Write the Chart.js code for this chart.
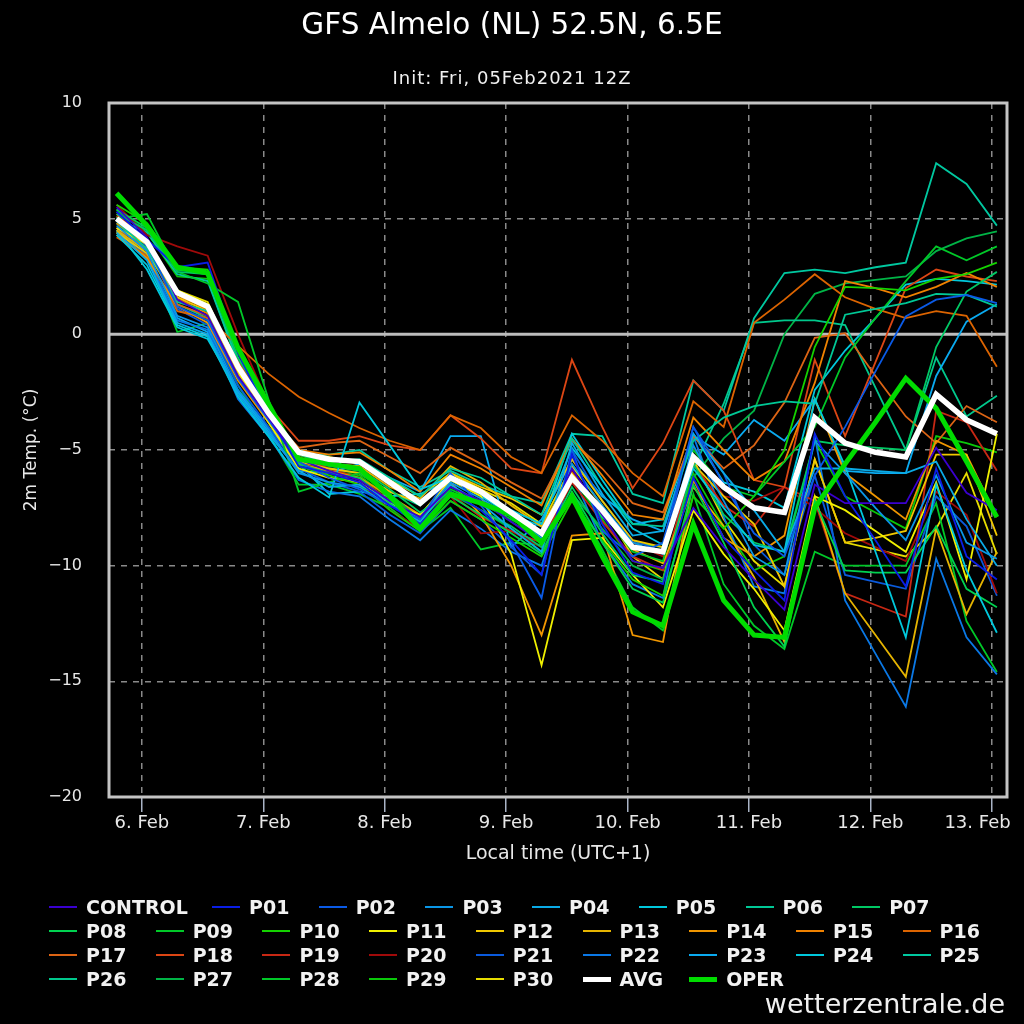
<!DOCTYPE html>
<html>
<head>
<meta charset="utf-8">
<title>GFS Almelo (NL) ensemble 2m temperature</title>
<script src="https://cdn.jsdelivr.net/npm/chart.js@4.4.1/dist/chart.umd.min.js"></script>
<style>
  html, body { margin: 0; padding: 0; background: #000; }
  body { width: 1024px; height: 1024px; position: relative; overflow: hidden;
         font-family: 'DejaVu Sans', sans-serif; color: #fff; }
  #chart { position: absolute; left: 0; top: 0; }
  .title { position: absolute; left: 0; width: 1024px; text-align: center; white-space: nowrap; }
  #main-title { top: 7px; font-size: 29.5px; color: #fff; }
  #sub-title { top: 67px; font-size: 18px; letter-spacing: 1px; color: #f0f0f0; }
  #legend .item { position: absolute; height: 24px; line-height: 24px; font-size: 19px;
                  font-weight: bold; color: #f2f2f2; white-space: nowrap; }
  #legend .swatch { position: absolute; left: 0; width: 28px; }
  #legend .label { position: absolute; left: 37px; top: 0; }
  #credit { position: absolute; right: 19px; top: 988px; font-size: 27px; color: #f0f0f0; }
</style>
</head>
<body>
<canvas id="chart" width="1024" height="1024"></canvas>
<div id="main-title" class="title">GFS Almelo (NL) 52.5N, 6.5E</div>
<div id="sub-title" class="title">Init: Fri, 05Feb2021 12Z</div>
<div id="legend"></div>
<div id="credit">wetterzentrale.de</div>
<script>
  // ------------------------------------------------------------
  // Data: hours after 6 Feb 00:00 local time, one value every 6 h
  // ------------------------------------------------------------
  const validHours = [-5, 1, 7, 13, 19, 25, 31, 37, 43, 49, 55, 61, 67, 73, 79,
    85, 91, 97, 103, 109, 115, 121, 127, 133, 139, 145, 151, 157, 163, 169];

  const dayTicks = [0, 24, 48, 72, 96, 120, 144, 168];
  const dayLabels = ['6. Feb', '7. Feb', '8. Feb', '9. Feb', '10. Feb', '11. Feb', '12. Feb', '13. Feb'];
  const tempTicks = [-20, -15, -10, -5, 0, 5, 10];

  const memberNames = ['CONTROL', 'P01', 'P02', 'P03', 'P04', 'P05', 'P06', 'P07', 'P08', 'P09', 'P10',
    'P11', 'P12', 'P13', 'P14', 'P15', 'P16', 'P17', 'P18', 'P19', 'P20',
    'P21', 'P22', 'P23', 'P24', 'P25', 'P26', 'P27', 'P28', 'P29', 'P30'];

  const memberColors = ['#3a00d0', '#0a1ee6', '#0a5ae6', '#0a96e6', '#0aaae6', '#00c8dc', '#00c896',
    '#00c864', '#00d250', '#00c828', '#14d200', '#f0f000', '#f0c800', '#e6b400', '#f09600',
    '#f08200', '#dc6400', '#dc6414', '#dc4614', '#c82814', '#a00a0a', '#0a5adc', '#0a78e6',
    '#0aaaf0', '#00c8dc', '#00c8a0', '#00c88c', '#00b446', '#00c828', '#0ac80a', '#e6dc00'];

  // 2m temperature (°C) per member
  const control = [5.5, 4.2, 1.5, 0.8, -1.8, -3.6, -5.4, -5.9, -6.3, -7.2, -7.9, -6.6, -7.2, -8.1, -9.0,
    -5.8, -7.8, -9.8, -10.1, -7.5, -9.2, -10.6, -11.9, -6.5, -7.3, -7.3, -7.3, -4.9, -6.85, -7.6];
  const p01 = [5.3, 4.1, 2.9, 3.1, -0.8, -3.5, -5.7, -6.0, -6.4, -7.4, -8.2, -6.8, -7.6, -8.9, -10.4,
    -5.2, -8.2, -10.3, -10.8, -6.2, -8.8, -10.2, -11.5, -4.3, -7.0, -8.9, -10.9, -5.8, -9.6, -10.6];
  const p02 = [5.0, 3.9, 1.2, 0.6, -1.9, -3.7, -5.5, -6.2, -6.7, -7.4, -8.0, -6.0, -7.4, -9.0, -11.4,
    -5.0, -8.5, -9.6, -9.0, -4.0, -6.5, -8.6, -9.6, -6.1, -4.0, -1.6, 0.77, 1.5, 1.7, 1.35];
  const p03 = [4.7, 3.6, 0.8, 0.3, -2.4, -4.1, -6.0, -6.4, -6.6, -7.4, -7.9, -6.4, -7.1, -7.9, -8.8,
    -5.6, -7.4, -9.0, -9.5, -4.8, -7.2, -9.6, -10.4, -4.6, -6.0, -7.5, -8.9, -6.1, -9.0, -9.7];
  const p04 = [4.4, 3.2, 0.5, 0.0, -2.6, -4.3, -5.9, -6.6, -6.5, -7.2, -8.1, -6.5, -7.3, -8.4, -9.4,
    -4.7, -6.9, -8.7, -8.5, -4.3, -6.0, -7.6, -9.4, -5.8, -5.8, -5.9, -6.0, -5.5, -8.0, -10.0];
  const p05 = [4.3, 3.0, 0.4, -0.1, -2.7, -4.4, -6.2, -7.05, -2.95, -4.8, -6.7, -6.2, -6.8, -7.6, -8.2,
    -4.9, -6.6, -8.4, -9.1, -5.8, -7.5, -9.1, -9.4, -2.8, -5.7, -9.4, -13.1, -6.5, -10.2, -12.9];
  const p06 = [4.9, 3.7, 1.4, 1.0, -1.5, -3.3, -5.0, -5.5, -5.4, -6.2, -7.0, -5.8, -6.2, -7.0, -7.8,
    -4.5, -6.6, -8.2, -8.3, -4.6, -3.6, -3.1, -2.9, -3.0, 0.85, 1.1, 1.35, 1.75, 1.7, 1.2];
  const p07 = [5.2, 4.5, 2.7, 2.6, -1.0, -3.2, -5.2, -5.6, -5.8, -6.7, -7.7, -6.8, -7.6, -8.3, -9.2,
    -6.6, -8.6, -10.4, -10.7, -5.6, -7.8, -9.0, -9.4, -4.6, -4.8, -4.9, -5.0, -0.55, 1.85, 2.7];
  const p08 = [5.4, 4.6, 2.8, 2.7, -0.8, -3.1, -5.6, -6.0, -6.2, -7.3, -8.3, -7.0, -7.8, -8.6, -9.5,
    -6.8, -9.0, -11.0, -11.6, -6.5, -9.0, -11.8, -13.5, -7.2, -10.2, -10.3, -10.3, -8.3, -11.0, -11.8];
  const p09 = [5.0, 5.2, 2.7, 2.2, 1.4, -2.8, -6.8, -6.4, -6.0, -6.9, -8.0, -6.7, -7.3, -8.0, -8.7,
    -6.2, -7.7, -9.4, -9.8, -5.0, -6.6, -7.0, -5.5, -4.0, -1.0, 0.7, 2.3, 3.8, 3.2, 3.8];
  const p10 = [5.6, 4.8, 2.9, 2.8, -0.7, -3.0, -5.7, -6.1, -6.5, -7.6, -8.5, -7.2, -8.0, -8.8, -9.6,
    -7.2, -8.9, -10.6, -11.3, -7.0, -8.4, -7.0, -5.0, -0.55, 2.05, 2.0, 1.9, 2.4, 2.6, 3.1];
  const p11 = [4.6, 3.9, 1.9, 1.3, -1.6, -3.8, -5.8, -6.2, -6.4, -7.3, -7.8, -6.3, -7.0, -9.5, -14.3,
    -8.9, -8.8, -10.4, -11.8, -7.6, -9.5, -11.0, -12.8, -7.0, -7.6, -8.5, -9.4, -6.4, -10.6, -4.3];
  const p12 = [4.4, 3.5, 1.6, 1.0, -1.7, -3.6, -5.5, -5.8, -6.0, -6.8, -7.3, -6.0, -6.6, -7.1, -7.8,
    -5.4, -7.2, -8.9, -9.2, -5.6, -7.0, -8.2, -10.9, -5.4, -9.0, -8.8, -8.5, -5.2, -5.2, -8.7];
  const p13 = [4.5, 3.6, 1.7, 1.1, -1.4, -3.3, -5.2, -5.6, -5.7, -6.6, -7.1, -5.7, -6.4, -7.4, -8.3,
    -6.0, -7.6, -9.3, -9.9, -6.6, -8.3, -10.5, -13.3, -7.0, -11.2, -13.0, -14.8, -8.4, -12.1, -9.4];
  const p14 = [4.3, 3.3, 1.2, 0.5, -2.0, -3.8, -5.6, -5.9, -6.2, -7.0, -7.8, -6.4, -7.8, -10.0, -13.0,
    -8.7, -8.6, -13.0, -13.3, -6.3, -8.8, -9.6, -8.7, -2.8, -6.0, -7.0, -8.0, -4.6, -5.2, -7.9];
  const p15 = [4.8, 3.9, 1.5, 0.9, -1.5, -3.4, -5.0, -5.2, -5.1, -5.9, -6.8, -5.2, -5.8, -6.6, -7.4,
    -4.5, -6.1, -7.8, -8.0, -3.6, -5.0, -6.3, -5.5, -2.1, 2.3, 2.0, 1.6, 2.05, 2.65, 2.05];
  const p16 = [4.2, 3.4, 1.0, 0.7, -0.5, -1.7, -2.7, -3.4, -4.05, -4.6, -5.0, -3.5, -4.05, -5.3, -6.0,
    -3.5, -4.6, -6.0, -7.0, -2.9, -4.0, 0.5, 1.5, 2.6, 1.6, 1.1, 0.7, 1.0, 0.8, -1.4];
  const p17 = [4.6, 3.7, 1.3, 0.8, -1.6, -3.5, -4.9, -4.7, -4.6, -5.3, -6.0, -4.9, -5.6, -6.4, -7.1,
    -4.6, -5.8, -7.3, -7.7, -4.4, -5.8, -4.8, -2.95, -0.15, 0.05, -1.8, -3.55, -4.7, -3.1, -3.8];
  const p18 = [5.2, 4.0, 1.6, 1.2, -1.2, -3.1, -4.6, -4.6, -4.4, -4.8, -5.0, -3.5, -4.5, -5.8, -6.0,
    -1.1, -4.0, -6.65, -4.7, -2.0, -3.3, -6.3, -6.6, -1.1, -4.4, -1.2, 2.0, 2.8, 2.5, 2.3];
  const p19 = [5.1, 4.1, 1.5, 1.1, -1.7, -3.6, -5.3, -5.8, -6.2, -7.2, -7.8, -6.9, -7.9, -8.5, -9.0,
    -6.4, -8.1, -9.6, -10.2, -5.6, -7.4, -8.3, -6.6, -7.2, -11.2, -11.7, -12.2, -3.3, -3.8, -5.9];
  const p20 = [5.6, 4.3, 3.8, 3.4, 0.0, -3.0, -5.5, -6.0, -6.4, -7.6, -8.4, -7.0, -8.6, -8.5, -9.2,
    -5.9, -7.8, -9.0, -9.6, -4.9, -7.0, -7.2, -6.6, -7.5, -8.6, -9.2, -9.8, -6.8, -7.8, -11.2];
  const p21 = [5.0, 3.8, 1.1, 0.4, -2.2, -4.0, -5.8, -6.4, -6.8, -7.8, -8.6, -7.2, -8.0, -9.2, -10.4,
    -5.0, -7.2, -8.9, -9.4, -4.0, -6.0, -9.1, -10.4, -6.1, -10.4, -10.7, -11.0, -7.0, -8.3, -11.3];
  const p22 = [4.6, 3.4, 0.6, 0.2, -2.8, -4.4, -6.3, -6.8, -7.0, -8.0, -8.9, -7.6, -8.4, -9.4, -10.0,
    -6.0, -9.0, -10.8, -11.4, -4.4, -7.9, -10.9, -11.2, -4.4, -11.5, -13.8, -16.1, -9.7, -13.1, -14.7];
  const p23 = [4.5, 3.3, 0.7, 0.1, -2.5, -4.2, -5.9, -6.0, -5.6, -6.2, -6.8, -4.4, -4.4, -9.2, -8.0,
    -5.4, -7.0, -8.0, -8.5, -4.4, -5.2, -3.7, -4.6, -2.8, -5.9, -6.0, -6.0, -1.8, 0.55, 1.3];
  const p24 = [4.5, 2.8, 0.3, -0.2, -2.5, -4.0, -5.6, -6.9, -6.8, -7.0, -6.9, -6.3, -7.0, -7.8, -8.3,
    -4.3, -6.3, -8.2, -8.0, -4.3, -6.4, -6.8, -7.5, -2.4, -0.7, 0.7, 2.15, 2.4, 2.3, 2.15];
  const p25 = [5.0, 4.4, 2.6, 2.3, -1.2, -3.4, -5.2, -5.2, -5.0, -5.9, -6.6, -5.9, -6.5, -7.0, -7.3,
    -4.3, -4.4, -6.9, -7.3, -2.0, -3.3, 0.7, 2.65, 2.8, 2.65, 2.9, 3.1, 7.4, 6.5, 4.7];
  const p26 = [4.8, 3.7, 1.3, 0.7, -1.9, -3.7, -5.4, -5.8, -6.0, -6.8, -7.4, -6.1, -6.9, -7.9, -8.9,
    -6.0, -7.9, -9.0, -9.2, -5.8, -3.0, 0.5, 0.6, 0.6, 0.4, -2.3, -5.0, -1.0, -3.55, -2.65];
  const p27 = [5.3, 4.5, 2.8, 2.6, -1.1, -3.2, -5.5, -5.7, -5.9, -6.9, -8.2, -6.9, -7.6, -8.4, -9.4,
    -6.9, -8.4, -10.0, -10.6, -6.2, -4.5, -3.3, 0.0, 1.75, 2.2, 2.35, 2.5, 3.6, 4.15, 4.45];
  const p28 = [5.1, 3.4, 0.1, 0.5, -2.2, -4.3, -6.5, -6.5, -6.9, -7.5, -8.5, -7.5, -9.3, -9.0, -9.1,
    -6.9, -9.3, -11.8, -12.8, -6.9, -10.8, -12.6, -13.6, -9.4, -10.0, -10.0, -10.0, -7.3, -12.4, -14.6];
  const p29 = [5.4, 4.4, 2.5, 2.4, -1.3, -3.4, -5.6, -5.9, -6.1, -7.1, -8.1, -6.6, -7.2, -8.1, -8.9,
    -6.2, -8.0, -9.8, -10.2, -6.0, -8.3, -10.2, -9.6, -4.6, -7.0, -7.7, -8.4, -4.4, -4.7, -5.1];
  const p30 = [4.4, 3.7, 1.9, 1.4, -1.5, -3.5, -5.1, -5.3, -5.6, -6.3, -7.0, -6.0, -6.7, -7.3, -8.2,
    -5.7, -7.4, -9.6, -10.6, -5.4, -8.0, -9.8, -10.9, -5.4, -9.0, -9.3, -9.6, -8.4, -6.0, -9.5];

  const avg = [5.0, 4.0, 1.8, 1.2, -1.4, -3.4, -5.1, -5.4, -5.5, -6.4, -7.3, -6.2, -6.8, -7.7, -8.6,
    -6.2, -7.6, -9.2, -9.4, -5.3, -6.6, -7.5, -7.7, -3.6, -4.7, -5.1, -5.3, -2.6, -3.7, -4.3];
  const oper = [6.1, 4.7, 2.9, 2.65, -0.6, -3.0, -5.4, -5.6, -5.8, -7.0, -8.4, -6.9, -7.3, -7.8, -9.0,
    -7.0, -9.6, -12.0, -12.6, -8.2, -11.5, -13.0, -13.1, -7.5, -5.6, -3.8, -1.9, -3.2, -5.5, -7.9];

  const members = [control, p01, p02, p03, p04, p05, p06, p07, p08, p09, p10,
    p11, p12, p13, p14, p15, p16, p17, p18, p19, p20,
    p21, p22, p23, p24, p25, p26, p27, p28, p29, p30];

  // ------------------------------------------------------------
  // Helpers
  // ------------------------------------------------------------
  function toPoints(values) {
    return values.map(function (v, i) {
      return { x: validHours[i], y: v };
    });
  }

  const GRID_COLOR = '#8a8a8a';
  const TEXT_COLOR = '#e8e8e8';

  // frame round the plot and the solid 0 °C line
  const framePlugin = {
    id: 'frame',
    beforeDatasetsDraw: function (chart) {
      const ctx = chart.ctx;
      const area = chart.chartArea;
      const y0 = chart.scales.y.getPixelForValue(0);
      ctx.save();
      ctx.strokeStyle = '#bcbcbc';
      ctx.lineWidth = 3;
      ctx.beginPath();
      ctx.moveTo(area.left, y0);
      ctx.lineTo(area.right, y0);
      ctx.stroke();
      ctx.restore();
    },
    afterDraw: function (chart) {
      const ctx = chart.ctx;
      const area = chart.chartArea;
      ctx.save();
      ctx.strokeStyle = '#c4c4c4';
      ctx.lineWidth = 3;
      ctx.strokeRect(area.left, area.top, area.right - area.left, area.bottom - area.top);
      ctx.restore();
    }
  };

  // ------------------------------------------------------------
  // Datasets
  // ------------------------------------------------------------
  const datasets = members.map(function (values, i) {
    return {
      label: memberNames[i],
      data: toPoints(values),
      borderColor: memberColors[i],
      borderWidth: 1.8,
      order: 2
    };
  });
  datasets.push({ label: 'AVG', data: toPoints(avg), borderColor: '#ffffff', borderWidth: 5.5, order: 0 });
  datasets.push({ label: 'OPER', data: toPoints(oper), borderColor: '#00dc00', borderWidth: 5, order: 1 });

  Chart.defaults.font.family = "'DejaVu Sans', sans-serif";
  Chart.defaults.color = TEXT_COLOR;

  new Chart(document.getElementById('chart'), {
    type: 'line',
    data: { datasets: datasets },
    plugins: [framePlugin],
    options: {
      responsive: false,
      animation: false,
      devicePixelRatio: 1,
      events: [],
      elements: {
        point: { radius: 0 },
        line: { tension: 0, borderJoinStyle: 'miter' }
      },
      layout: { padding: { top: 103, right: 17, bottom: 157, left: 0 } },
      plugins: {
        legend: { display: false },
        tooltip: { enabled: false }
      },
      scales: {
        x: {
          type: 'linear',
          min: -6.5,
          max: 171,
          afterBuildTicks: function (scale) {
            scale.ticks = dayTicks.map(function (v) { return { value: v }; });
          },
          afterFit: function (scale) {
            scale.height = 70;
            // keep the plot width fixed; the last label is nudged left instead
            scale.paddingLeft = 0;
            scale.paddingRight = 0;
          },
          ticks: {
            autoSkip: false,
            maxRotation: 0,
            padding: 1,
            color: TEXT_COLOR,
            font: { size: 18 },
            callback: function (v) {
              const i = dayTicks.indexOf(v);
              // trailing no-break spaces shift the centred last label inside the page
              return i === dayTicks.length - 1 ? dayLabels[i] + '\u00a0\u00a0\u00a0\u00a0\u00a0' : dayLabels[i];
            }
          },
          grid: {
            color: GRID_COLOR,
            lineWidth: 1.5,
            drawTicks: true,
            tickLength: 15,
            tickColor: '#a9b4c6',
            tickWidth: 1.5
          },
          border: { display: false, dash: [6, 6] },
          title: {
            display: true,
            text: 'Local time (UTC+1)',
            color: TEXT_COLOR,
            font: { size: 19 },
            padding: { top: 0, bottom: 2 }
          }
        },
        y: {
          min: -20,
          max: 10,
          afterBuildTicks: function (scale) {
            scale.ticks = tempTicks.map(function (v) { return { value: v }; });
          },
          afterFit: function (scale) { scale.width = 109; },
          ticks: {
            padding: 27,
            color: TEXT_COLOR,
            font: { size: 16 },
            callback: function (v) { return String(v).replace('-', '\u2212'); }
          },
          grid: {
            color: function (ctx) {
              return ctx.tick && ctx.tick.value === 0 ? 'rgba(0,0,0,0)' : GRID_COLOR;
            },
            lineWidth: 1.5,
            drawTicks: false
          },
          border: { display: false, dash: [6, 6] },
          title: {
            display: true,
            text: '2m Temp. (°C)',
            color: TEXT_COLOR,
            font: { size: 17 },
            padding: { top: 21, bottom: 0 }
          }
        }
      }
    }
  });

  // ------------------------------------------------------------
  // Legend (fixed grid like the original)
  // ------------------------------------------------------------
  const legendNames = memberNames.concat(['AVG', 'OPER']);
  const legendColors = memberColors.concat(['#ffffff', '#00dc00']);
  const legendRows = [[0, 8], [8, 17], [17, 26], [26, 33]];
  const rowCentres = [907, 931, 955, 979];
  const legendBox = document.getElementById('legend');

  legendRows.forEach(function (range, row) {
    for (let i = range[0]; i < range[1]; i++) {
      const col = i - range[0];
      let left;
      if (row === 0) {
        left = col === 0 ? 49 : 212 + 106.7 * (col - 1);
      } else {
        left = 49 + 106.7 * col;
      }
      const thick = legendNames[i] === 'AVG' || legendNames[i] === 'OPER';
      const item = document.createElement('div');
      item.className = 'item';
      item.style.left = left + 'px';
      item.style.top = (rowCentres[row] - 12) + 'px';
      const sw = document.createElement('div');
      sw.className = 'swatch';
      sw.style.background = legendColors[i];
      sw.style.height = (thick ? 5 : 2) + 'px';
      sw.style.top = (thick ? 10 : 11) + 'px';
      const lb = document.createElement('div');
      lb.className = 'label';
      lb.textContent = legendNames[i];
      item.appendChild(sw);
      item.appendChild(lb);
      legendBox.appendChild(item);
    }
  });
</script>
</body>
</html>
